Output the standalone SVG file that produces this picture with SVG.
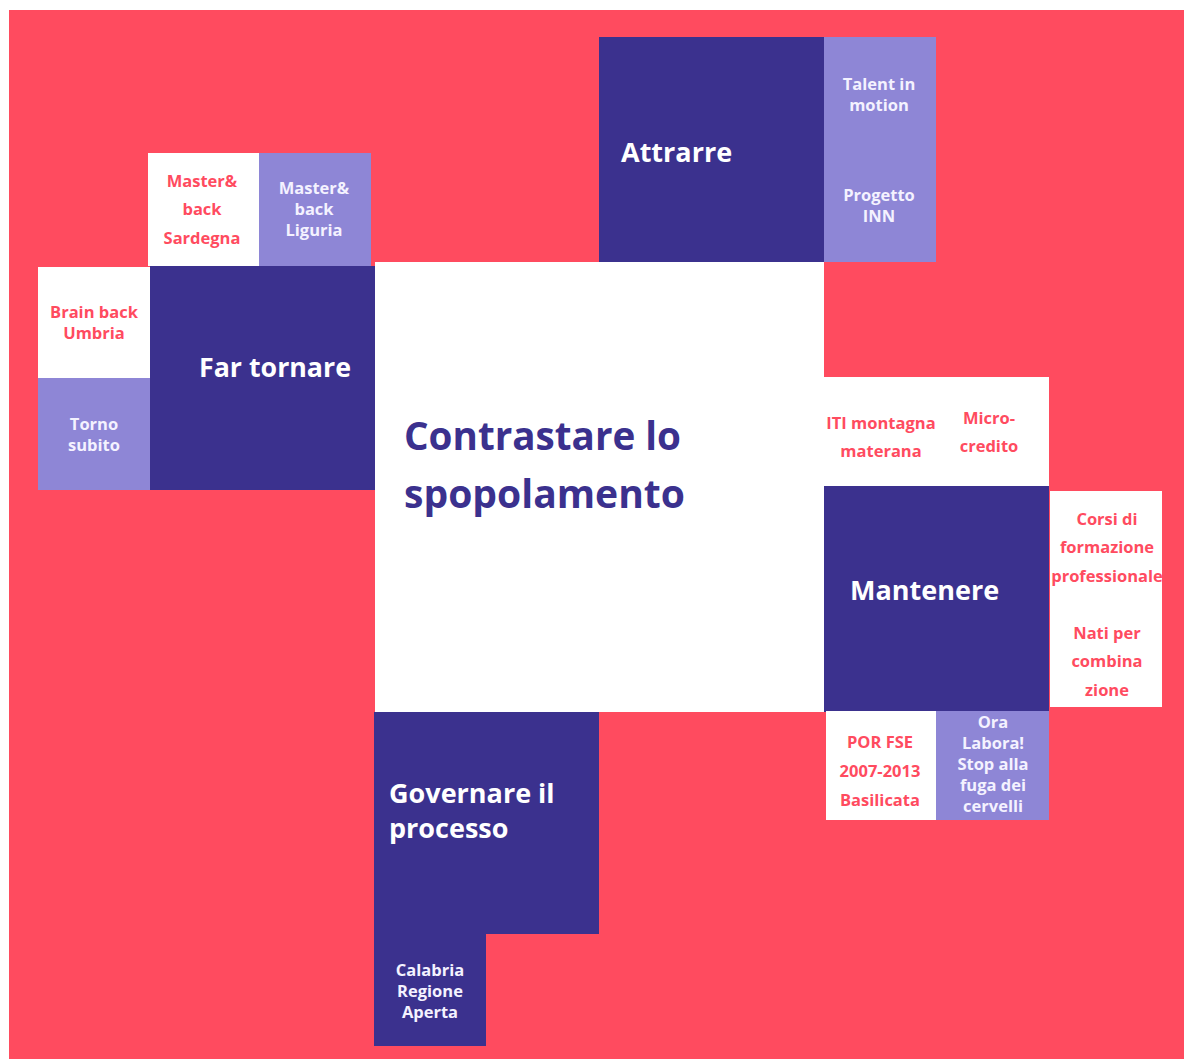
<svg xmlns="http://www.w3.org/2000/svg" width="1184" height="1059" viewBox="0 0 1184 1059">
  <style>
    .dark { fill: #3B318E; }
    .light { fill: #8E86D6; }
    .white { fill: #FFFFFF; }
    text { font-family: "Open Sans", "Noto Sans", sans-serif; font-weight: 700; }
    .title { font-size: 27px; fill: #FFFFFF; }
    .main { font-size: 40px; fill: #3B318E; }
    .sm { font-size: 16.5px; text-anchor: middle; }
    .red { fill: #FF4B5F; }
    .pale { fill: #F4F2FF; }
  </style>

  <!-- background -->
  <rect x="0" y="0" width="1184" height="1059" fill="#FFFFFF"/>
  <rect x="9" y="10" width="1175" height="1049" fill="#FF4B5F"/>

  <!-- central theme -->
  <g id="center">
    <rect class="white" x="375" y="262" width="449" height="450"/>
    <text class="main" x="404" y="450" textLength="277" lengthAdjust="spacingAndGlyphs">Contrastare lo</text>
    <text class="main" x="404" y="508" textLength="281" lengthAdjust="spacingAndGlyphs">spopolamento</text>
  </g>

  <!-- Attrarre -->
  <g id="attrarre">
    <rect class="dark" x="599" y="37" width="225" height="225"/>
    <text class="title" x="621" y="162">Attrarre</text>
  </g>
  <g id="talent-progetto">
    <rect class="light" x="824" y="37" width="112" height="225"/>
    <text class="sm pale" x="879" y="90">Talent in</text>
    <text class="sm pale" x="879" y="111">motion</text>
    <text class="sm pale" x="879" y="201">Progetto</text>
    <text class="sm pale" x="879" y="222">INN</text>
  </g>

  <!-- Far tornare -->
  <g id="far-tornare">
    <rect class="dark" x="150" y="266" width="225" height="224"/>
    <text class="title" x="199" y="377" textLength="152" lengthAdjust="spacingAndGlyphs">Far tornare</text>
  </g>
  <g id="master-sardegna">
    <rect class="white" x="148" y="153" width="111" height="113"/>
    <text class="sm red" x="202" y="187">Master&amp;</text>
    <text class="sm red" x="202" y="215">back</text>
    <text class="sm red" x="202" y="244">Sardegna</text>
  </g>
  <g id="master-liguria">
    <rect class="light" x="259" y="153" width="112" height="113"/>
    <text class="sm pale" x="314" y="194">Master&amp;</text>
    <text class="sm pale" x="314" y="215">back</text>
    <text class="sm pale" x="314" y="236">Liguria</text>
  </g>
  <g id="brain-back">
    <rect class="white" x="38" y="267" width="112" height="111"/>
    <text class="sm red" x="94" y="318">Brain back</text>
    <text class="sm red" x="94" y="339">Umbria</text>
  </g>
  <g id="torno-subito">
    <rect class="light" x="38" y="378" width="112" height="112"/>
    <text class="sm pale" x="94" y="430">Torno</text>
    <text class="sm pale" x="94" y="451">subito</text>
  </g>

  <!-- Mantenere -->
  <g id="mantenere">
    <rect class="dark" x="824" y="486" width="225" height="226"/>
    <text class="title" x="850" y="600">Mantenere</text>
  </g>
  <g id="iti-microcredito">
    <rect class="white" x="824" y="377" width="225" height="109"/>
    <text class="sm red" x="881" y="429">ITI montagna</text>
    <text class="sm red" x="881" y="457">materana</text>
    <text class="sm red" x="989" y="424">Micro-</text>
    <text class="sm red" x="989" y="452">credito</text>
  </g>
  <g id="corsi-nati">
    <rect class="white" x="1050" y="491" width="112" height="216"/>
    <text class="sm red" x="1107" y="525">Corsi di</text>
    <text class="sm red" x="1107" y="553">formazione</text>
    <text class="sm red" x="1107" y="582">professionale</text>
    <text class="sm red" x="1107" y="639">Nati per</text>
    <text class="sm red" x="1107" y="667">combina</text>
    <text class="sm red" x="1107" y="696">zione</text>
  </g>
  <g id="por-fse">
    <rect class="white" x="826" y="711" width="110" height="109"/>
    <text class="sm red" x="880" y="748">POR FSE</text>
    <text class="sm red" x="880" y="777">2007-2013</text>
    <text class="sm red" x="880" y="806">Basilicata</text>
  </g>
  <g id="ora-labora">
    <rect class="light" x="936" y="711" width="113" height="109"/>
    <text class="sm pale" x="993" y="728">Ora</text>
    <text class="sm pale" x="993" y="749">Labora!</text>
    <text class="sm pale" x="993" y="770">Stop alla</text>
    <text class="sm pale" x="993" y="791">fuga dei</text>
    <text class="sm pale" x="993" y="812">cervelli</text>
  </g>

  <!-- Governare il processo -->
  <g id="governare">
    <rect class="dark" x="374" y="712" width="225" height="222"/>
    <text class="title" x="389" y="803">Governare il</text>
    <text class="title" x="389" y="838">processo</text>
  </g>
  <g id="calabria">
    <rect class="dark" x="374" y="934" width="112" height="112"/>
    <text class="sm pale" x="430" y="976">Calabria</text>
    <text class="sm pale" x="430" y="997">Regione</text>
    <text class="sm pale" x="430" y="1018">Aperta</text>
  </g>

  <!-- connectors: none drawn -->
  <g id="connectors"/>
</svg>
